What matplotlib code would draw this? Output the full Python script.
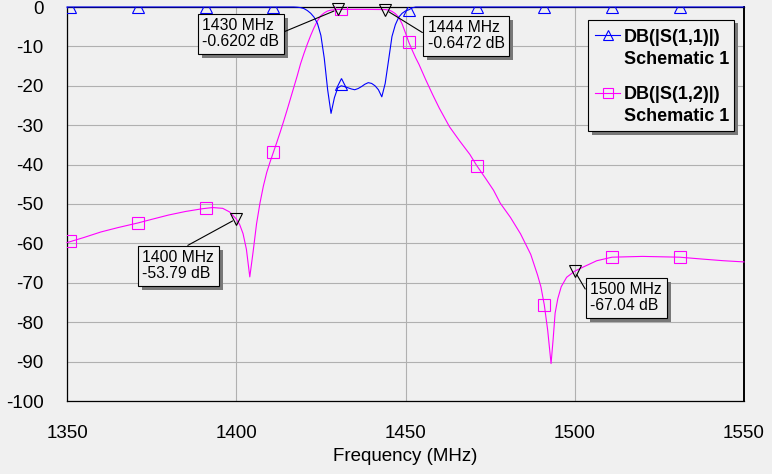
import numpy as np
import matplotlib
matplotlib.use('Agg')
from matplotlib import pyplot as plt
from matplotlib import transforms
from matplotlib.lines import Line2D
from matplotlib.patches import Rectangle

# S11 trace (dB)
s11_freq = [1350, 1417, 1418, 1419, 1420, 1421, 1422, 1423, 1424, 1425, 1426, 1427, 1428,
            1429, 1430, 1431, 1432, 1433, 1434, 1435, 1436, 1437, 1438, 1439, 1440, 1441,
            1442, 1443, 1444, 1445, 1446, 1447, 1448, 1449, 1450, 1451, 1452, 1453, 1550]
s11_db = [0, 0, -0.05, -0.15, -0.4, -0.9, -1.6, -2.6, -4.2, -7.2, -13, -21, -27,
          -23, -20.5, -20, -20.2, -20.5, -20.8, -21, -20.7, -20.2, -19.6, -19.2, -19.4, -20,
          -21, -22.8, -19.4, -13.5, -7.5, -4.5, -2.6, -1.6, -1.0, -0.7, -0.2, 0, 0]

# S12 trace (dB)
s12_freq = [1350, 1355, 1360, 1365, 1371, 1375, 1380, 1385, 1390, 1393, 1396, 1398, 1400,
            1401, 1402, 1403, 1404, 1405, 1406, 1407, 1408, 1409, 1410, 1411, 1412, 1413,
            1414, 1415, 1416, 1417, 1418, 1419, 1420, 1421, 1422, 1423, 1424, 1425, 1426,
            1427, 1428, 1430, 1437, 1444, 1445, 1446, 1447, 1448, 1449, 1450, 1451, 1452,
            1453, 1454, 1456, 1458, 1460, 1463, 1466, 1469, 1471, 1473.5, 1476, 1478, 1481,
            1484, 1487, 1489, 1490, 1491, 1492, 1493, 1493.6, 1494.2, 1495, 1496, 1497.6,
            1500, 1502.5, 1506.5, 1511, 1520, 1531, 1538, 1544, 1550]
s12_db = [-59.8, -58.5, -57.1, -56.0, -54.8, -53.9, -52.8, -51.9, -51.2, -50.9, -51.1, -52.0, -53.8,
          -55.2, -57.5, -61.5, -68.5, -62, -55, -49.8, -45.5, -42, -39.3, -36.8, -34.3, -31.7,
          -29, -26.2, -23.3, -20.4, -17.5, -14.4, -11.8, -9.4, -7.2, -5.2, -3.5, -2.2, -1.5,
          -1.0, -0.8, -0.62, -0.6, -0.65, -0.75, -1.1, -1.7, -2.6, -4.3, -6.6, -9.0, -11.0,
          -12.9, -14.6, -18.5, -22.2, -25.7, -30.4, -34.0, -37.4, -40.2, -43.3, -46.5, -49.8, -53.4,
          -57.6, -62.8, -68, -71, -75.6, -82, -90.5, -84.5, -77.7, -74, -71, -68.6,
          -67.04, -66, -64.4, -63.5, -63.3, -63.5, -64, -64.4, -64.7]

# symbol positions on the traces
sym_freq = [1351, 1371, 1391, 1411, 1431, 1451, 1471, 1491, 1511, 1531]
s11_sym = [0, 0, 0, 0, -19.5, -0.8, 0, 0, 0, 0]
s12_sym = [-59.5, -54.8, -51.0, -36.8, -0.62, -9.0, -40.4, -75.6, -63.5, -63.5]

# readout markers
mark_freq = [1400, 1430, 1444, 1500]
mark_db = [-53.79, -0.6202, -0.6472, -67.04]
# top-left corner of each readout box (data units) and side the leader leaves from
box_xy = [(1371.0, -60.7), (1388.7, -1.8), (1455.2, -2.3), (1503.3, -68.8)]
box_rel = [(0.5, 1.0), (1.0, 0.5), (0.0, 0.5), (0.0, 0.5)]

xticks = [1350, 1400, 1450, 1500, 1550]
yticks = list(range(-100, 1, 10))

bg = '#f0f0f0'
shadow = '#787878'
plt.rcParams['font.family'] = ['Liberation Sans', 'DejaVu Sans']
plt.rcParams['axes.unicode_minus'] = False

fig = plt.figure(figsize=(7.72, 4.74), dpi=100, facecolor=bg)
ax = fig.add_axes([67 / 772, 1 - 401 / 474, 677 / 772, 394 / 474])
ax.set_facecolor(bg)

ax.plot(s12_freq, s12_db, color='#ff00ff', lw=0.8, zorder=3, clip_on=False)
ax.plot(sym_freq, s12_sym, ls='none', marker='s', ms=8.5, mfc='none', mec='#ff00ff', mew=0.8, zorder=3)
ax.plot(s11_freq, s11_db, color='#0000ff', lw=0.8, zorder=4, clip_on=False)
ax.plot(sym_freq, s11_sym, ls='none', marker='^', ms=8, mfc='none', mec='#0000ff', mew=0.8, zorder=4)

ax.plot(mark_freq, mark_db, ls='none', marker='v', ms=8, mfc='none', mec='black', mew=0.8,
        zorder=5, clip_on=False)

anns = []
for f, d, (bx, by), rel in zip(mark_freq, mark_db, box_xy, box_rel):
    label = '%d MHz\n%s dB' % (f, format(d, '.4g'))
    ann = ax.annotate(label, xy=(f, d), xytext=(bx + 1.3, by - 1.1), textcoords='data',
                      ha='left', va='top', fontsize=11.3, linespacing=1.05, zorder=6,
                      bbox=dict(boxstyle='square,pad=0.3', fc=bg, ec='black', lw=0.8),
                      arrowprops=dict(arrowstyle='-', color='black', lw=0.8, relpos=rel,
                                      shrinkA=0, shrinkB=3))
    anns.append(ann)

ax.set_xlim(1350, 1550)
ax.set_ylim(-100, 0)
ax.set_xticks(xticks)
ax.set_yticks(yticks)
ax.tick_params(length=0, labelsize=13.5)
ax.tick_params(axis='x', pad=17)
ax.tick_params(axis='y', pad=17)
ax.grid(True, color='#b0b0b0', lw=0.8)
ax.set_axisbelow(True)
for side in ['left', 'bottom', 'top', 'right']:
    ax.spines[side].set_color('black')
    ax.spines[side].set_linewidth(0.9)
ax.spines['right'].set_linewidth(1.4)

ax.set_xlabel('Frequency (MHz)', fontsize=13.5)
ax.xaxis.set_label_coords(0.5, -0.12)

# drop shadows under the readout boxes (pixel space, shifted right/down)
fig.canvas.draw()
for ann in anns:
    bb = ann.get_bbox_patch().get_window_extent()
    ax.add_patch(Rectangle((bb.x0 + 4, bb.y0 - 4), bb.width, bb.height,
                           transform=transforms.IdentityTransform(), fc=shadow, ec='none',
                           zorder=5.5, clip_on=False))


# legend box drawn in pixel positions of the figure
def fx(px):
    return px / 772


def fy(py):
    return 1 - py / 474


fig.add_artist(Rectangle((fx(592), fy(134.5)), (734 - 588) / 772, (131 - 20) / 474,
                         transform=fig.transFigure, fc=shadow, ec='none', zorder=7))
fig.add_artist(Rectangle((fx(588.3), fy(131)), (734.3 - 588.3) / 772, (131 - 20) / 474,
                         transform=fig.transFigure, fc=bg, ec='black', lw=0.8, zorder=8))

legend_rows = [('#0000ff', '^', 'DB(|S(1,1)|)', 35, 41.5, 64),
               ('#ff00ff', 's', 'DB(|S(1,2)|)', 92.7, 99.3, 120.7)]
for col, mk, name, ly, b1, b2 in legend_rows:
    fig.add_artist(Line2D([fx(595), fx(620)], [fy(ly), fy(ly)], color=col, lw=0.8,
                          transform=fig.transFigure, zorder=9))
    fig.add_artist(Line2D([fx(607.5)], [fy(ly)], color=col, marker=mk, ms=7.5, mfc='none',
                          mec=col, mew=0.8, transform=fig.transFigure, zorder=9))
    fig.text(fx(624), fy(b1), name, fontsize=13, fontweight='bold', va='baseline', zorder=9)
    fig.text(fx(624), fy(b2), 'Schematic 1', fontsize=13, fontweight='bold', va='baseline', zorder=9)

fig.savefig('out.png', dpi=100, facecolor=bg)
